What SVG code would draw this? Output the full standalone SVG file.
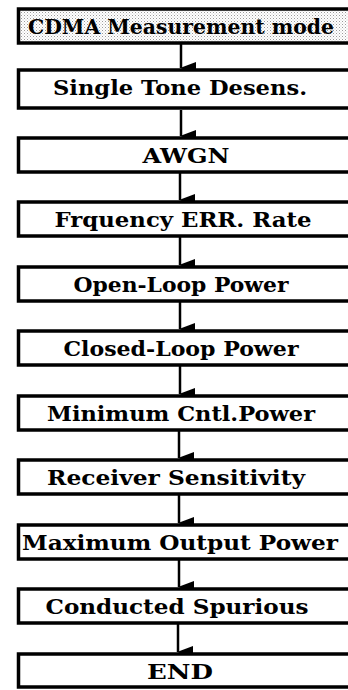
<svg xmlns="http://www.w3.org/2000/svg" width="348" height="690" viewBox="0 0 348 690">
<defs>
<pattern id="dots" width="3" height="3" patternUnits="userSpaceOnUse">
<rect width="3" height="3" fill="#ffffff"/>
<rect x="0" y="0" width="1" height="1" fill="#9a9a9a"/>
<rect x="1.5" y="1.5" width="1" height="1" fill="#c4c4c4"/>
</pattern>
<marker id="ah" markerUnits="userSpaceOnUse" markerWidth="12" markerHeight="16" refX="6" refY="15" orient="auto" viewBox="0 0 12 16">
<path d="M0,0 L12,0 L6,16 Z" fill="#000"/>
</marker>
</defs>
<style>
.box{fill:#fff;stroke:#000;stroke-width:3.5}
.start{fill:url(#dots);stroke:#000;stroke-width:3.5}
.lbl{font-family:"DejaVu Serif","Liberation Serif",serif;font-weight:bold;font-size:20px;fill:#000;text-anchor:middle}
.conn{stroke:#000;stroke-width:2.5;fill:none}
</style>
<g id="connectors">
<line class="conn" x1="181" y1="44" x2="181" y2="68" marker-end="url(#ah)"/>
<line class="conn" x1="181" y1="110" x2="181" y2="136" marker-end="url(#ah)"/>
<line class="conn" x1="180" y1="173" x2="180" y2="200" marker-end="url(#ah)"/>
<line class="conn" x1="180" y1="237" x2="180" y2="265" marker-end="url(#ah)"/>
<line class="conn" x1="180" y1="302" x2="180" y2="329" marker-end="url(#ah)"/>
<line class="conn" x1="180" y1="366" x2="180" y2="394" marker-end="url(#ah)"/>
<line class="conn" x1="179" y1="431" x2="179" y2="458" marker-end="url(#ah)"/>
<line class="conn" x1="179" y1="495" x2="179" y2="523" marker-end="url(#ah)"/>
<line class="conn" x1="179" y1="560" x2="179" y2="587" marker-end="url(#ah)"/>
<line class="conn" x1="178" y1="624" x2="178" y2="652" marker-end="url(#ah)"/>
</g>
<g id="n1"><rect class="start" x="18.5" y="9" width="345" height="34"/><text class="lbl" x="181" y="34" textLength="306" lengthAdjust="spacingAndGlyphs">CDMA Measurement mode</text></g>
<g id="n2"><rect class="box" x="18.5" y="70" width="345" height="38"/><text class="lbl" x="180" y="95" textLength="254" lengthAdjust="spacingAndGlyphs">Single Tone Desens.</text></g>
<g id="n3"><rect class="box" x="18.5" y="138" width="345" height="34"/><text class="lbl" x="186" y="163" textLength="87" lengthAdjust="spacingAndGlyphs">AWGN</text></g>
<g id="n4"><rect class="box" x="18.5" y="202" width="345" height="34"/><text class="lbl" x="183" y="227" textLength="257" lengthAdjust="spacingAndGlyphs">Frquency ERR. Rate</text></g>
<g id="n5"><rect class="box" x="18.5" y="267" width="345" height="34"/><text class="lbl" x="181" y="292" textLength="215" lengthAdjust="spacingAndGlyphs">Open-Loop Power</text></g>
<g id="n6"><rect class="box" x="18.5" y="331" width="345" height="34"/><text class="lbl" x="181" y="356" textLength="235" lengthAdjust="spacingAndGlyphs">Closed-Loop Power</text></g>
<g id="n7"><rect class="box" x="18.5" y="396" width="345" height="34"/><text class="lbl" x="181" y="421" textLength="268" lengthAdjust="spacingAndGlyphs">Minimum Cntl.Power</text></g>
<g id="n8"><rect class="box" x="18.5" y="460" width="345" height="34"/><text class="lbl" x="176" y="485" textLength="258" lengthAdjust="spacingAndGlyphs">Receiver Sensitivity</text></g>
<g id="n9"><rect class="box" x="18.5" y="525" width="345" height="34"/><text class="lbl" x="180" y="550" textLength="316" lengthAdjust="spacingAndGlyphs">Maximum Output Power</text></g>
<g id="n10"><rect class="box" x="18.5" y="589" width="345" height="34"/><text class="lbl" x="177" y="614" textLength="263" lengthAdjust="spacingAndGlyphs">Conducted Spurious</text></g>
<g id="n11"><rect class="box" x="18.5" y="654" width="345" height="33"/><text class="lbl" x="180" y="679" textLength="66" lengthAdjust="spacingAndGlyphs">END</text></g>
</svg>
